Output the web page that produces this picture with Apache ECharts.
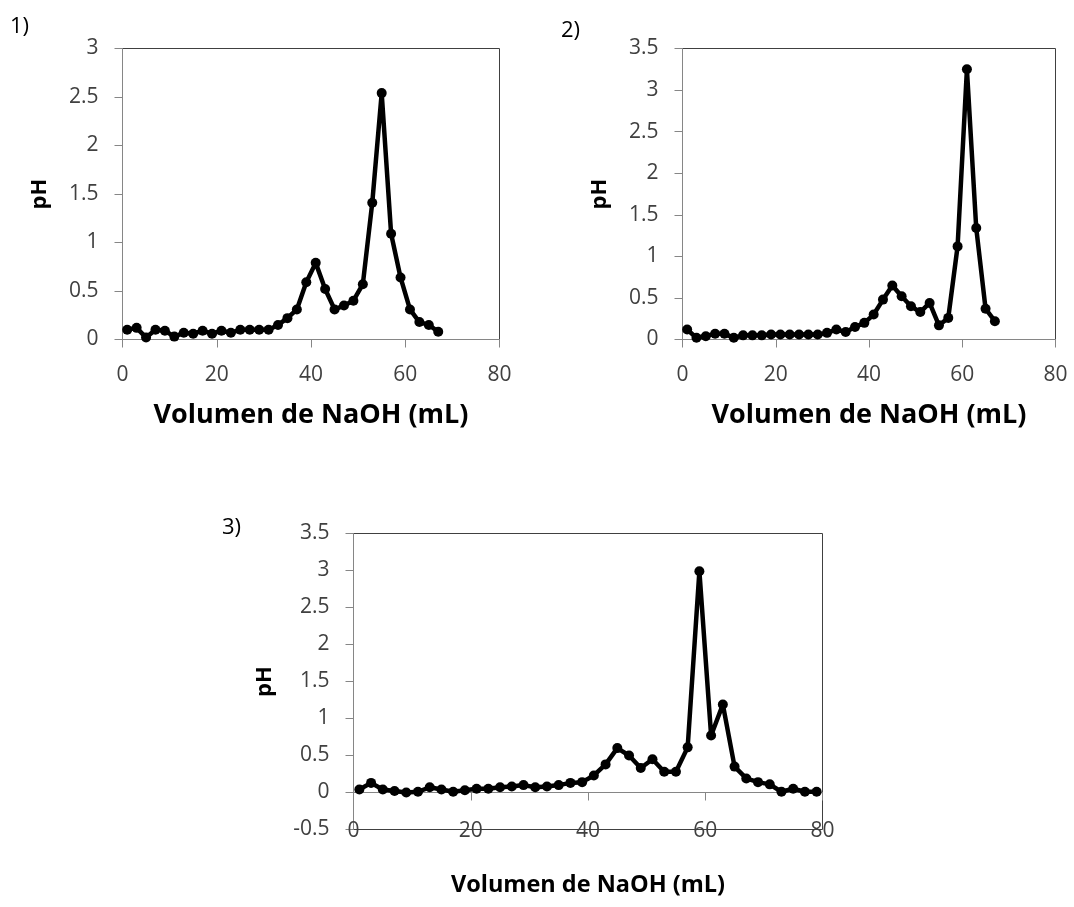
<!DOCTYPE html>
<html>
<head>
<meta charset="utf-8">
<script src="https://cdn.jsdelivr.net/npm/echarts@6/dist/echarts.min.js"></script>
<style>
html,body{margin:0;padding:0;background:#fff;}
#chart{width:1074px;height:907px;}
</style>
</head>
<body>
<div id="chart"></div>
<script>
// ---- Data ----
const panelLabels = ['1)', '2)', '3)'];
const xTitle = 'Volumen de NaOH (mL)';
const yTitle = 'pH';

const vol1 = [1,3,5,7,9,11,13,15,17,19,21,23,25,27,29,31,33,35,37,39,41,43,45,47,49,51,53,55,57,59,61,63,65,67];
const ph1  = [0.10,0.12,0.02,0.10,0.09,0.03,0.07,0.06,0.09,0.06,0.09,0.07,0.10,0.10,0.10,0.10,0.15,0.22,0.31,0.59,0.79,0.52,0.31,0.35,0.40,0.57,1.41,2.54,1.09,0.64,0.31,0.18,0.15,0.08];

const vol2 = [1,3,5,7,9,11,13,15,17,19,21,23,25,27,29,31,33,35,37,39,41,43,45,47,49,51,53,55,57,59,61,63,65,67];
const ph2  = [0.12,0.02,0.04,0.07,0.07,0.02,0.05,0.05,0.05,0.06,0.06,0.06,0.06,0.06,0.06,0.08,0.12,0.09,0.15,0.20,0.30,0.48,0.65,0.52,0.40,0.33,0.44,0.17,0.26,1.12,3.25,1.34,0.37,0.22];

const vol3 = [1,3,5,7,9,11,13,15,17,19,21,23,25,27,29,31,33,35,37,39,41,43,45,47,49,51,53,55,57,59,61,63,65,67,69,71,73,75,77,79];
const ph3  = [0.04,0.13,0.04,0.02,0.00,0.01,0.07,0.04,0.01,0.03,0.05,0.05,0.07,0.08,0.10,0.07,0.08,0.10,0.13,0.14,0.23,0.38,0.60,0.50,0.33,0.45,0.28,0.28,0.61,2.99,0.77,1.19,0.35,0.19,0.14,0.11,0.01,0.05,0.01,0.01];

const xRange = {min: 0, max: 80, interval: 20};
const yRanges = [
  {min: 0, max: 3, interval: 0.5},
  {min: 0, max: 3.5, interval: 0.5},
  {min: -0.5, max: 3.5, interval: 0.5}
];

// ---- Styling / layout ----
const FONT = 'Open Sans';
const AXIS_GRAY = '#868686';
const FRAME = '#404040';
const LABEL_COLOR = '#404040';

const grids = [
  {left: 122.5, top: 48.5, width: 377, height: 291},
  {left: 682.5, top: 48.5, width: 373, height: 291},
  {left: 353.5, top: 533.5, width: 469, height: 296}
];
const panelPos = [
  {left: 10, top: 16},
  {left: 561, top: 20},
  {left: 222, top: 517}
];
const xLabelMargin = [25, 25, -9];
const xNameGap = [62, 62, 44];
const xNameSize = [27, 27, 23.5];

const seriesData = [[vol1, ph1], [vol2, ph2], [vol3, ph3]];

const option = {
  animation: false,
  backgroundColor: '#fff',
  title: panelLabels.map((t, i) => ({
    text: t, left: panelPos[i].left, top: panelPos[i].top, padding: 0,
    textStyle: {fontFamily: FONT, fontSize: 22, fontWeight: 'normal', color: '#000'}
  })),
  grid: grids.map(g => Object.assign({
    show: true, borderColor: FRAME, borderWidth: 1, backgroundColor: 'transparent',
    containLabel: false, outerBoundsMode: 'none'
  }, g)),
  xAxis: grids.map((g, i) => ({
    gridIndex: i, type: 'value',
    min: xRange.min, max: xRange.max, interval: xRange.interval,
    axisLine: {show: true, onZero: i === 2, lineStyle: {color: AXIS_GRAY, width: 1}},
    axisTick: {show: true, length: 8, lineStyle: {color: AXIS_GRAY}},
    axisLabel: {margin: xLabelMargin[i], fontFamily: FONT, fontSize: 21, color: LABEL_COLOR},
    splitLine: {show: false},
    name: xTitle, nameLocation: 'middle', nameGap: xNameGap[i], nameMoveOverlap: false,
    nameTextStyle: {fontFamily: FONT, fontSize: xNameSize[i], fontWeight: 'bold', color: '#000'}
  })),
  yAxis: grids.map((g, i) => ({
    gridIndex: i, type: 'value',
    min: yRanges[i].min, max: yRanges[i].max, interval: yRanges[i].interval,
    axisLine: {show: true, onZero: false, lineStyle: {color: AXIS_GRAY, width: 1}},
    axisTick: {show: true, length: 8, lineStyle: {color: AXIS_GRAY}},
    axisLabel: {margin: 24, fontFamily: FONT, fontSize: 21, color: LABEL_COLOR},
    splitLine: {show: false},
    name: yTitle, nameLocation: 'middle', nameRotate: 90, nameGap: i === 2 ? 78 : 72,
    nameMoveOverlap: false,
    nameTextStyle: {fontFamily: FONT, fontSize: 22, fontWeight: 'bold', color: '#000'}
  })),
  series: seriesData.map((d, i) => ({
    type: 'line', xAxisIndex: i, yAxisIndex: i,
    data: d[0].map((x, j) => [x, d[1][j]]),
    symbol: 'circle', symbolSize: 10,
    lineStyle: {color: '#000', width: 4.5, join: 'round', cap: 'round'},
    itemStyle: {color: '#000'},
    emphasis: {disabled: true}
  }))
};

const chart = echarts.init(document.getElementById('chart'), null, {renderer: 'canvas'});
chart.setOption(option);
</script>
</body>
</html>
